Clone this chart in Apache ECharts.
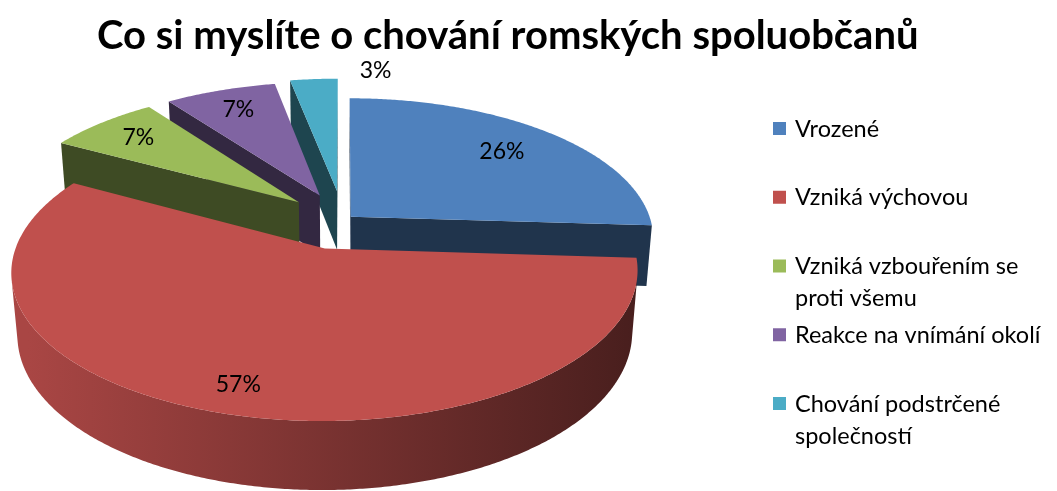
<!DOCTYPE html>
<html>
<head>
<meta charset="utf-8">
<script src="https://cdn.jsdelivr.net/npm/echarts@6/dist/echarts.min.js"></script>
<style>
  html, body { margin: 0; padding: 0; background: #ffffff; }
  #chart { width: 1057px; height: 491px; }
</style>
</head>
<body>
<div id="chart"></div>
<script>
// Survey answers and their shares (percent)
const categories = [
  'Vrozené',
  'Vzniká výchovou',
  'Vzniká vzbouřením se proti všemu',
  'Reakce na vnímání okolí',
  'Chování podstrčené společností'
];
const shares = [26, 57, 7, 7, 3];
const colors = ['#4F81BD', '#C0504D', '#9BBB59', '#8064A2', '#4BACC6'];
const titleText = 'Co si myslíte o chování romských spoluobčanů';

// How far each slice is pulled out of the pie (fraction of the radius)
const explode = [0.035, 0.21, 0.2, 0.2, 0.22];
// Where the percentage sits along each slice's middle (fraction of the radius)
const labelRadius = [0.75, 0.85, 0.8, 0.8, 1.0];

// Camera / solid set-up for the tilted, slightly perspective pie
const view = { cx: 343, cy: 220, r: 300, tilt: 27.2 * Math.PI / 180, dist: 5.93, thick: 0.23 };
const sinA = Math.sin(view.tilt), cosA = Math.cos(view.tilt);
const camera = [0, -view.dist * cosA, view.dist * sinA];

function project(x, y, z) {
  const w = 1 + (y * cosA - z * sinA) / view.dist;
  return [view.cx + view.r * x / w, view.cy - view.r * (y * sinA + z * cosA) / w];
}
function facing(n, p) {
  return n[0] * (camera[0] - p[0]) + n[1] * (camera[1] - p[1]) + n[2] * (camera[2] - p[2]) > 0;
}
function shade(hex, f) {
  const n = parseInt(hex.slice(1), 16);
  const r = Math.round(((n >> 16) & 255) * f), g = Math.round(((n >> 8) & 255) * f), b = Math.round((n & 255) * f);
  return 'rgb(' + r + ',' + g + ',' + b + ')';
}

const total = shares.reduce((a, b) => a + b, 0);
function sliceAngles(i) {
  let acc = 0;
  for (let j = 0; j < i; j++) acc += shares[j];
  const t0 = acc / total * Math.PI * 2;
  const t1 = (acc + shares[i]) / total * Math.PI * 2;
  return [t0, t1, (t0 + t1) / 2];
}
// paint order: slices further back first
const drawOrder = shares.map((v, i) => i).sort((a, b) => {
  const da = sliceAngles(a), db = sliceAngles(b);
  const ya = explode[a] * Math.cos(da[2]) + 0.5 * Math.cos(da[2]);
  const yb = explode[b] * Math.cos(db[2]) + 0.5 * Math.cos(db[2]);
  return yb - ya;
});

function renderItem(params, api) {
  const i = params.dataIndex;
  const v = api.value(0);
  let acc = 0;
  for (let j = 0; j < i; j++) acc += shares[j];
  const t0 = acc / total * Math.PI * 2;
  const t1 = (acc + v) / total * Math.PI * 2;
  const mid = (t0 + t1) / 2;
  const ox = explode[i] * Math.sin(mid), oy = explode[i] * Math.cos(mid);
  const zt = 0, zb = -view.thick;
  const rim = (t, z) => project(ox + Math.sin(t), oy + Math.cos(t), z);
  const tip = z => project(ox, oy, z);
  const steps = Math.max(6, Math.ceil((t1 - t0) / (Math.PI / 360)));
  const base = colors[i];
  const zBase = drawOrder.indexOf(i) * 10;
  const children = [];

  // radial cut faces
  [[t0, [-Math.cos(t0), Math.sin(t0), 0]], [t1, [Math.cos(t1), -Math.sin(t1), 0]]].forEach(function (f) {
    if (facing(f[1], [ox, oy, 0])) {
      children.push({
        type: 'polygon', z2: zBase + 1,
        shape: { points: [tip(zt), rim(f[0], zt), rim(f[0], zb), tip(zb)] },
        style: { fill: shade(base, 0.4) }
      });
    }
  });

  // curved outer wall, only the part turned to the viewer
  const vis = [];
  for (let k = 0; k <= steps; k++) {
    const t = t0 + (t1 - t0) * k / steps;
    if (facing([Math.sin(t), Math.cos(t), 0], [ox + Math.sin(t), oy + Math.cos(t), 0])) vis.push(t);
  }
  if (vis.length > 1) {
    const pts = vis.map(t => rim(t, zt)).concat(vis.slice().reverse().map(t => rim(t, zb)));
    children.push({
      type: 'polygon', z2: zBase + 2,
      shape: { points: pts },
      style: {
        fill: new echarts.graphic.LinearGradient(view.cx - view.r * 1.05, 0, view.cx + view.r * 1.05, 0, [
          { offset: 0, color: shade(base, 0.88) },
          { offset: 1, color: shade(base, 0.36) }
        ], true)
      }
    });
  }

  // top face
  const topPts = [tip(zt)];
  for (let k = 0; k <= steps; k++) topPts.push(rim(t0 + (t1 - t0) * k / steps, zt));
  children.push({ type: 'polygon', z2: zBase + 3, shape: { points: topPts }, style: { fill: base } });

  // percentage label
  const small = v / total < 0.05;
  let lp, align;
  if (small) {
    const c = rim(t1, zt);
    lp = [c[0] + 22, c[1] - 8];
    align = 'left';
  } else {
    const lr = labelRadius[i];
    lp = project(ox + lr * Math.sin(mid), oy + lr * Math.cos(mid), zt);
    align = 'center';
  }
  children.push({
    type: 'text', z2: 200, x: lp[0], y: lp[1],
    style: { text: v + '%', fill: '#000', font: '23px Lato', align: align, verticalAlign: 'middle' }
  });

  return { type: 'group', children: children };
}

// greedy word wrap for the legend entries
const legendFont = '23.5px Lato';
const measureCtx = document.createElement('canvas').getContext('2d');
measureCtx.font = legendFont;
function wrap(text, maxWidth) {
  const words = text.split(' ');
  const lines = [];
  let line = '';
  words.forEach(function (w) {
    const trial = line ? line + ' ' + w : w;
    if (line && measureCtx.measureText(trial).width > maxWidth) {
      lines.push(line);
      line = w;
    } else {
      line = trial;
    }
  });
  if (line) lines.push(line);
  return lines.join('\n');
}

// legend drawn beside the pie
const legendItems = [];
categories.forEach(function (name, i) {
  const yc = 129 + i * 68.75;
  legendItems.push({
    type: 'rect', left: 773, top: yc - 7,
    shape: { width: 13, height: 13 },
    style: { fill: colors[i] }
  });
  legendItems.push({
    type: 'text', left: 795, top: yc - 16,
    style: { text: wrap(name, 268), fill: '#000', font: legendFont, lineHeight: 32 }
  });
});

const chart = echarts.init(document.getElementById('chart'), null, { renderer: 'canvas' });
chart.setOption({
  animation: false,
  backgroundColor: '#ffffff',
  title: {
    text: titleText, left: 92, top: 11,
    textStyle: { fontFamily: 'Lato', fontWeight: 'bold', fontSize: 40, color: '#000' }
  },
  graphic: legendItems,
  series: [{
    type: 'custom',
    coordinateSystem: 'none',
    renderItem: renderItem,
    data: shares.map((v, i) => ({ name: categories[i], value: v }))
  }]
});
</script>
</body>
</html>
